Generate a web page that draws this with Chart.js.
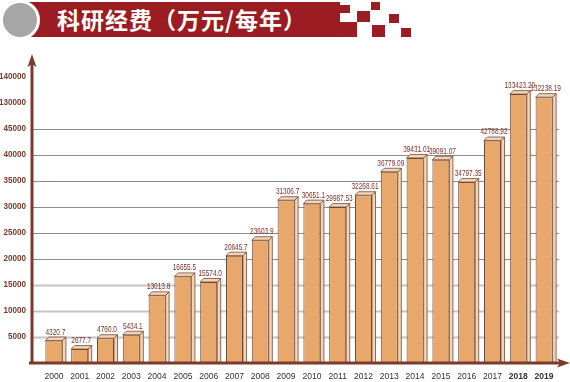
<!DOCTYPE html>
<html>
<head>
<meta charset="utf-8">
<script src="https://cdn.jsdelivr.net/npm/chart.js@4"></script>
<style>
  html, body { margin: 0; padding: 0; background: #fff; }
  #wrap { position: relative; width: 570px; height: 382px; overflow: hidden; }
  #wrap canvas { position: absolute; left: 0; top: 0; }
  .red { position: absolute; background: #9b1c22; }
  #circle { position: absolute; left: 0; top: 0; width: 34px; height: 34px; border-radius: 50%;
            background: #a6a6a6; border: 3px solid #fff; }
  #title { position: absolute; left: 57px; top: 2px; height: 35px; line-height: 35px; color: #fff;
           font: 700 23px "Noto Sans CJK SC", sans-serif; letter-spacing: 1px; white-space: nowrap; }
</style>
</head>
<body>
<div id="wrap">
  <canvas id="c" width="570" height="382"></canvas>
  <div class="red" style="left:28px;top:2px;width:312px;height:35px"></div>
  <div class="red" style="left:340px;top:22px;width:17px;height:15px"></div>
  <div class="red" style="left:340px;top:5px;width:10px;height:8px"></div>
  <div class="red" style="left:357px;top:11px;width:13px;height:11px"></div>
  <div class="red" style="left:371px;top:2px;width:9px;height:8px"></div>
  <div class="red" style="left:372px;top:25px;width:13px;height:12px"></div>
  <div class="red" style="left:389px;top:14px;width:10px;height:9px"></div>
  <div class="red" style="left:401px;top:28px;width:10px;height:9px"></div>
  <div id="circle"></div>
  <div id="title">科研经费（万元/每年）</div>
</div>
<script>
/* data */
var years = ["2000","2001","2002","2003","2004","2005","2006","2007","2008","2009",
             "2010","2011","2012","2013","2014","2015","2016","2017","2018","2019"];
var funding = [4320.7, 2677.7, 4760.0, 5434.1, 13013.8, 16655.5, 15574.0, 20645.7, 23603.9, 31306.7,
               30651.1, 29987.53, 32268.61, 36779.09, 39431.01, 39091.07, 34797.35, 42788.92, 133423.20, 132238.19];
var fundingText = ["4320.7","2677.7","4760.0","5434.1","13013.8","16655.5","15574.0","20645.7","23603.9","31306.7",
                   "30651.1","29987.53","32268.61","36779.09","39431.01","39091.07","34797.35","42788.92","133423.20","132238.19"];
var yTicks = [5000, 10000, 15000, 20000, 25000, 30000, 35000, 40000, 45000, 130000, 140000];
var gridTicks = [5000, 10000, 15000, 20000, 25000, 30000, 35000, 40000, 45000];

/* broken axis: 45000 -> 130000 jump takes one step */
function brk(v) { return v <= 45000 ? v : 50000 + (v - 130000) / 2; }

var AXIS = "#7b3a2c";
var DEPTH = 3.5;

function scaledText(ctx, txt, x, y, sx, align) {
  ctx.save();
  ctx.translate(x, y);
  ctx.scale(sx, 1);
  ctx.textAlign = align;
  ctx.fillText(txt, 0, 0);
  ctx.restore();
}

var decor = {
  id: "decor",
  beforeDatasetsDraw: function(chart) {
    var ctx = chart.ctx, ys = chart.scales.y, a = chart.chartArea;
    ctx.save();
    gridTicks.forEach(function(t) {
      var py = Math.round(ys.getPixelForValue(brk(t))) + 0.5;
      ctx.strokeStyle = t <= 15000 ? "#c4c4c4" : "#8c8c8c";
      ctx.lineWidth = t <= 15000 ? 2 : 1;
      ctx.beginPath(); ctx.moveTo(33, py); ctx.lineTo(a.right + 2, py); ctx.stroke();
    });
    ctx.restore();
  },
  afterDatasetsDraw: function(chart) {
    var ctx = chart.ctx, ys = chart.scales.y, xs = chart.scales.x, a = chart.chartArea;
    var meta = chart.getDatasetMeta(0);
    ctx.save();
    /* 3D faces */
    meta.data.forEach(function(bar) {
      var l = bar.x - bar.width / 2, r = bar.x + bar.width / 2, t = bar.y, b = bar.base;
      ctx.fillStyle = "#f7d3b4";
      ctx.strokeStyle = "#6e4b3b";
      ctx.lineWidth = 0.8;
      ctx.beginPath();
      ctx.moveTo(r, t); ctx.lineTo(r + DEPTH, t - DEPTH); ctx.lineTo(r + DEPTH, b); ctx.lineTo(r, b);
      ctx.closePath(); ctx.fill(); ctx.stroke();
      ctx.beginPath();
      ctx.moveTo(l, t); ctx.lineTo(l + DEPTH, t - DEPTH); ctx.lineTo(r + DEPTH, t - DEPTH); ctx.lineTo(r, t);
      ctx.closePath(); ctx.fill(); ctx.stroke();
    });
    /* value labels */
    ctx.fillStyle = "#7d2e24";
    ctx.font = "8.5px Arial, 'Liberation Sans', sans-serif";
    ctx.textBaseline = "alphabetic";
    meta.data.forEach(function(bar, i) {
      scaledText(ctx, fundingText[i], bar.x + 1.5, bar.y - DEPTH - 2.5, 0.76, "center");
    });
    /* axes */
    ctx.strokeStyle = AXIS; ctx.fillStyle = AXIS;
    ctx.lineWidth = 3;
    ctx.beginPath(); ctx.moveTo(32, a.bottom + 1); ctx.lineTo(32, 64); ctx.stroke();
    ctx.beginPath(); ctx.moveTo(29, a.bottom); ctx.lineTo(560, a.bottom); ctx.stroke();
    ctx.beginPath();
    ctx.moveTo(32, 54); ctx.lineTo(36.5, 67); ctx.lineTo(32, 64); ctx.lineTo(27.5, 67); ctx.closePath(); ctx.fill();
    ctx.beginPath();
    ctx.moveTo(570, a.bottom); ctx.lineTo(557, a.bottom - 4.5); ctx.lineTo(560, a.bottom); ctx.lineTo(557, a.bottom + 4.5);
    ctx.closePath(); ctx.fill();
    /* y tick labels */
    ctx.font = "bold 9px Arial, 'Liberation Sans', sans-serif";
    ctx.textBaseline = "middle";
    yTicks.forEach(function(t) {
      scaledText(ctx, String(t), 26, ys.getPixelForValue(brk(t)), 0.9, "right");
    });
    /* x tick labels */
    ctx.fillStyle = "#333";
    years.forEach(function(yr, i) {
      ctx.font = (i >= 18 ? "bold " : "") + "9px Arial, 'Liberation Sans', sans-serif";
      scaledText(ctx, yr, xs.getPixelForValue(i), 377, 0.95, "center");
    });
    ctx.restore();
  }
};

new Chart(document.getElementById("c"), {
  type: "bar",
  data: {
    labels: years,
    datasets: [{
      data: funding.map(brk),
      backgroundColor: "#e9a86b",
      borderColor: "#6e4b3b",
      borderWidth: 1,
      barPercentage: 0.66,
      categoryPercentage: 1
    }]
  },
  options: {
    responsive: false,
    animation: false,
    layout: { padding: { left: 41, right: 13, top: 77, bottom: 19 } },
    plugins: { legend: { display: false }, tooltip: { enabled: false } },
    scales: {
      x: { display: false, offset: true },
      y: { display: false, min: 0, max: 55000 }
    }
  },
  plugins: [decor]
});
</script>
</body>
</html>
